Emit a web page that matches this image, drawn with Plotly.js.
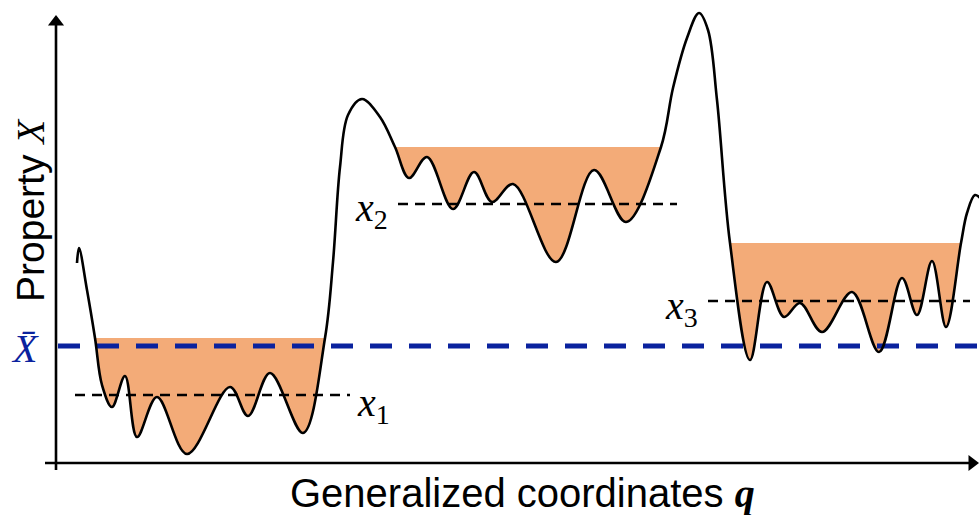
<!DOCTYPE html>
<html>
<head>
<meta charset="utf-8">
<script src="https://cdn.plot.ly/plotly-3.0.1.min.js"></script>
<style>html,body{margin:0;padding:0;background:#fff;}#chart{width:979px;height:515px;}</style>
</head>
<body>
<div id="chart"></div>
<script>
// Generalized coordinate q and property X along the landscape curve
const curveQ = [21, 23, 31, 39, 46, 56, 69, 81, 101, 131, 174, 192, 214, 247, 269, 277, 284, 292, 306, 324, 339, 353, 371, 397, 418, 436, 457, 500, 538, 570, 605, 617, 631, 643, 652, 661, 674, 694, 711, 728, 744, 766, 796, 823, 846, 861, 876, 890, 905, 911, 919, 926];
const curveX = [200, 215, 173, 125, 78, 56, 87, 26, 66, 9, 76, 47, 90, 30, 125, 201, 296, 348, 364, 346, 316, 285, 306, 254, 291, 261, 279, 201, 293, 241, 316, 375, 425, 450, 433, 363, 220, 103, 181, 146, 160, 131, 171, 111, 185, 148, 202, 136, 220, 250, 268, 263];

// Basins (index of first and last point on the curve, fill level)
const basinStart = [3, 20, 36];
const basinEnd = [14, 30, 48];
const basinLevel = [125, 316, 220];

// Mean property and local averages
const meanX = 117;
const localX = [68, 259, 162];
const localFrom = [19, 342, 652];
const localTo = [294, 621, 914];
const localLabels = ['<i>x</i><sub>1</sub>', '<i>x</i><sub>2</sub>', '<i>x</i><sub>3</sub>'];

// Axis extents
const qAxis = [-11, 916];
const xAxis = [-7, 441];

const traces = [];
for (let i = 0; i < basinStart.length; i++) {
  const qs = curveQ.slice(basinStart[i], basinEnd[i] + 1);
  const xs = curveX.slice(basinStart[i], basinEnd[i] + 1);
  xs[0] = basinLevel[i]; xs[xs.length - 1] = basinLevel[i];
  traces.push({
    x: qs, y: xs, mode: 'lines', fill: 'toself', fillcolor: '#F3AB78',
    line: {width: 0, shape: 'spline', color: 'rgba(0,0,0,0)'}, hoverinfo: 'skip', showlegend: false
  });
}
for (let i = 0; i < localX.length; i++) {
  traces.push({
    x: [localFrom[i], localTo[i]], y: [localX[i], localX[i]], mode: 'lines',
    line: {color: '#000', width: 2.4, dash: '10px,7px'}, hoverinfo: 'skip', showlegend: false
  });
}
traces.push({
  x: [2, 923], y: [meanX, meanX], mode: 'lines',
  line: {color: '#0A229E', width: 5, dash: '22px,17px'}, hoverinfo: 'skip', showlegend: false
});
traces.push({
  x: curveQ, y: curveX, mode: 'lines',
  line: {color: '#000', width: 2.6, shape: 'spline', smoothing: 1}, hoverinfo: 'skip', showlegend: false
});
// axes with arrow heads
traces.push({x: [0, 0], y: xAxis, mode: 'lines', line: {color: '#000', width: 2.6}, hoverinfo: 'skip', showlegend: false});
traces.push({x: qAxis, y: [0, 0], mode: 'lines', line: {color: '#000', width: 2.6}, hoverinfo: 'skip', showlegend: false});
traces.push({x: [0], y: [xAxis[1]], mode: 'markers', marker: {symbol: 'triangle-up', size: 14, color: '#000'}, cliponaxis: false, hoverinfo: 'skip', showlegend: false});
traces.push({x: [qAxis[1]], y: [0], mode: 'markers', marker: {symbol: 'triangle-right', size: 14, color: '#000'}, cliponaxis: false, hoverinfo: 'skip', showlegend: false});

const serif = 'Liberation Serif, DejaVu Serif, serif';
const annotations = [
  {x: -26, y: 253, xref: 'x', yref: 'y', text: 'Property <span style="font-family:Liberation Serif"><i>X</i></span>', textangle: -90,
   showarrow: false, font: {family: 'Liberation Sans, Arial, sans-serif', size: 39, color: '#000'}},
  {x: 466, y: -30, xref: 'x', yref: 'y', text: 'Generalized coordinates <span style="font-family:Liberation Serif"><b><i>q</i></b></span>',
   showarrow: false, font: {family: 'Liberation Sans, Arial, sans-serif', size: 40, color: '#000'}},
  {x: -31, y: 115, xref: 'x', yref: 'y', text: '<i>X\u0304</i>', showarrow: false,
   font: {family: serif, size: 40, color: '#0A229E'}}
];
const labelQ = [317, 315, 625];
const labelY = [58, 253, 155];
for (let i = 0; i < localLabels.length; i++) {
  annotations.push({x: labelQ[i], y: labelY[i], xref: 'x', yref: 'y', text: localLabels[i], showarrow: false,
    font: {family: serif, size: 40, color: '#000'}});
}

const layout = {
  width: 979, height: 515, margin: {l: 0, r: 0, t: 0, b: 0},
  paper_bgcolor: '#fff', plot_bgcolor: '#fff',
  xaxis: {range: [-56, 923], showgrid: false, zeroline: false, showticklabels: false, ticks: '', showline: false, fixedrange: true},
  yaxis: {range: [-52, 463], showgrid: false, zeroline: false, showticklabels: false, ticks: '', showline: false, fixedrange: true},
  annotations: annotations, hovermode: false, showlegend: false
};
Plotly.newPlot('chart', traces, layout, {staticPlot: true, displayModeBar: false});
</script>
</body>
</html>
